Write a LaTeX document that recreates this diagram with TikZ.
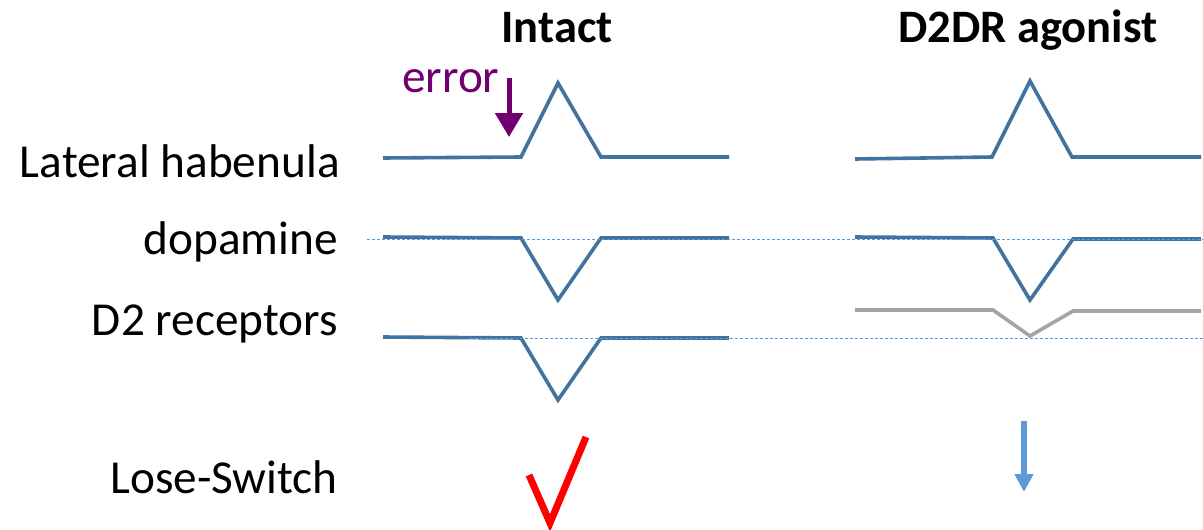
\documentclass[tikz,border=0pt]{standalone}
\usepackage{fontspec}
\setmainfont{Carlito}
\usetikzlibrary{arrows.meta}
\definecolor{trace}{RGB}{66,114,158}
\definecolor{ref}{RGB}{91,155,213}
\definecolor{muted}{RGB}{166,163,163}
\definecolor{errpurple}{RGB}{112,0,112}
\tikzset{
  label/.style={font=\fontsize{47.3}{52}\selectfont, inner sep=0pt},
  heading/.style={label, font=\fontsize{46.5}{52}\selectfont\bfseries},
  tracel/.style={draw=trace, line width=3.6pt, line join=miter},
  mutedl/.style={draw=muted, line width=3.6pt},
  baseline/.style={draw=ref, line width=1pt, dash pattern=on 3pt off 2pt},
}
\begin{document}
\begin{tikzpicture}[x=1pt,y=-1pt]
\useasboundingbox (0,0) rectangle (1203,530);

% column headings
\node[heading, anchor=base] (hIntact) at (557,42) {Intact};
\node[heading, anchor=base] (hAgon) at (1028,42) {D2DR agonist};

% row labels
\node[label, anchor=base east] (lLHb) at (340,177) {Lateral habenula};
\node[label, anchor=base east] (lDA) at (338,254) {dopamine};
\node[label, anchor=base east] (lD2) at (338,335) {D2 receptors};
\node[label, anchor=base east] (lLS) at (338,493) {Lose-Switch};

% error cue
\node[label, anchor=base west, text=errpurple] (err) at (402,92) {error};
\coordinate (errTop) at (509,78);
\coordinate (errTip) at (509,137);
\draw[errpurple, line width=5pt, -{Triangle[width=27pt,length=24pt]}] (errTop) -- (errTip);

% intact traces
\draw[tracel] (383,158) -- (521,157) -- (558,83) -- (601,157) -- (729,157);
\draw[tracel] (383,237) -- (521,238) -- (558,300) -- (601,238) -- (729,238);
\draw[tracel] (383,337) -- (521,338) -- (558,400) -- (601,338) -- (729,338);

% agonist traces
\draw[tracel] (855,159) -- (992,157) -- (1030,81) -- (1072,157) -- (1201,157);
\draw[tracel] (855,237) -- (993,238) -- (1030,300) -- (1073,239) -- (1201,239);
\draw[mutedl] (855,310) -- (993,310) -- (1030,336) -- (1073,311) -- (1201,311);

% reference baselines
\draw[baseline] (367,239) -- (1203,239);
\draw[baseline] (470,338) -- (1203,338);

% outcomes
\draw[red, line width=7pt, line join=miter] (529,475) -- (550,523) -- (586,437);
\coordinate (arTop) at (1024,421);
\coordinate (arTip) at (1024,492);
\draw[ref, line width=6pt, -{Triangle[width=18pt,length=18pt]}] (arTop) -- (arTip);
\end{tikzpicture}
\end{document}
